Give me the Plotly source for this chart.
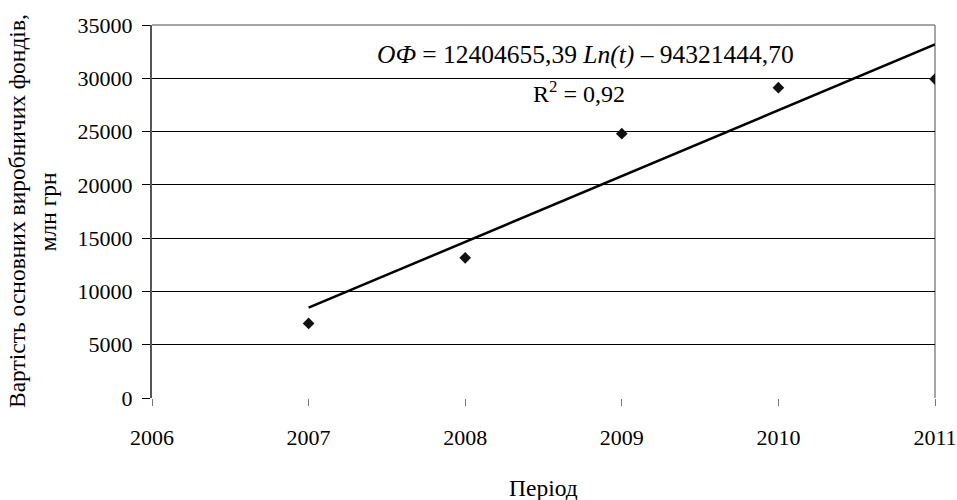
import numpy as np
import plotly.graph_objects as go

# Data
years = [2007, 2008, 2009, 2010, 2011]
values = [7000, 13150, 24800, 29120, 29930]

# Trend line coefficients as printed on the chart
coef_a = 12404655.39
coef_b = -94321444.70
trend_start, trend_end = 2007, 2011

x_ticks = [2006, 2007, 2008, 2009, 2010, 2011]
y_ticks = [0, 5000, 10000, 15000, 20000, 25000, 30000, 35000]

t = np.linspace(trend_start, trend_end, 300)
trend = coef_a * np.log(t) + coef_b

FONT = "Liberation Serif, Times New Roman, serif"

fig = go.Figure()
fig.add_trace(go.Scatter(x=t, y=trend, mode="lines",
                         line=dict(color="black", width=2.5),
                         hoverinfo="skip", showlegend=False))
fig.add_trace(go.Scatter(x=years, y=values, mode="markers",
                         marker=dict(symbol="diamond", size=9, color="#111111"),
                         showlegend=False))

fig.update_layout(
    width=957, height=500,
    margin=dict(l=152, r=22, t=25, b=101.5, autoexpand=False),
    paper_bgcolor="white", plot_bgcolor="white",
    font=dict(family=FONT, size=22, color="black"),
    showlegend=False,
)
fig.update_xaxes(
    range=[2006, 2011], tickvals=x_ticks, ticktext=[str(v) for v in x_ticks],
    showgrid=False, zeroline=False, showline=False, automargin=False,
    ticks="outside", ticklen=7, tickcolor="#777777", tickwidth=1,
    ticklabelstandoff=13,
    tickfont=dict(family=FONT, size=22),
)
fig.update_yaxes(
    range=[0, 35000], tickvals=y_ticks, ticktext=[str(v) for v in y_ticks],
    showgrid=True, gridcolor="black", gridwidth=1, zeroline=False,
    showline=True, linecolor="#555555", linewidth=2, automargin=False,
    ticks="outside", ticklen=8, tickcolor="black", tickwidth=1,
    ticklabelstandoff=5,
    tickfont=dict(family=FONT, size=22),
)

# white background behind the equation label, top and right borders
fig.add_shape(type="rect", xref="paper", yref="paper",
              x0=0.254, x1=0.857, y0=0.76, y1=0.97,
              fillcolor="white", line=dict(width=0), layer="between")
fig.add_shape(type="line", xref="paper", yref="paper",
              x0=0, x1=1, y0=1, y1=1,
              line=dict(color="#888888", width=1.5), layer="between")
fig.add_shape(type="line", xref="paper", yref="paper",
              x0=1, x1=1, y0=0, y1=1,
              line=dict(color="#888888", width=1.5), layer="between")

fig.add_annotation(xref="paper", yref="paper", x=0.554, y=0.92,
                   text="<i>OФ</i> = 12404655,39 <i>Ln(t)</i> – 94321444,70",
                   showarrow=False, font=dict(family=FONT, size=25.5),
                   xanchor="center", yanchor="middle")
fig.add_annotation(xref="paper", yref="paper", x=0.545, y=0.82,
                   text="R<sup>2</sup> = 0,92",
                   showarrow=False, font=dict(family=FONT, size=24),
                   xanchor="center", yanchor="middle")

# axis titles
fig.add_annotation(xref="paper", yref="paper", x=0.5, y=-0.24,
                   text="Період", showarrow=False,
                   font=dict(family=FONT, size=23.5),
                   xanchor="center", yanchor="middle")
fig.add_annotation(xref="paper", yref="paper", x=-0.173, y=0.5,
                   text="Вартість основних виробничих фондів,", textangle=-90,
                   showarrow=False, font=dict(family=FONT, size=23.5),
                   xanchor="center", yanchor="middle")
fig.add_annotation(xref="paper", yref="paper", x=-0.133, y=0.5,
                   text="млн грн", textangle=-90,
                   showarrow=False, font=dict(family=FONT, size=23.5),
                   xanchor="center", yanchor="middle")

fig.write_html("out.html", config={"displayModeBar": False},
               post_script="document.body.style.margin='0';document.body.style.padding='0';")
